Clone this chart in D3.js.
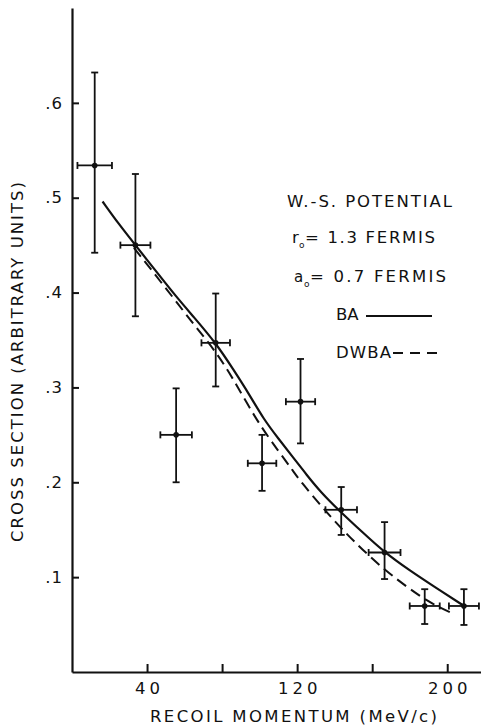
<!DOCTYPE html>
<html>
<head>
<meta charset="utf-8">
<script src="https://cdn.jsdelivr.net/npm/d3@7"></script>
<style>
  body { margin: 0; background: #fff; }
  svg { display: block; }
</style>
</head>
<body>
<div id="chart"></div>
<script>
// measured points (MeV/c, arbitrary units)
const momentum = [12.1, 33.8, 55.5, 76.6, 101.3, 121.8, 143.5, 166.6, 188, 208.9];
const momentumErr = [9.2, 8, 8.4, 7.6, 7.6, 7.8, 8.4, 8.5, 8, 8];
const crossSection = [0.534, 0.450, 0.250, 0.347, 0.220, 0.285, 0.171, 0.126, 0.0696, 0.0696];
const errLow = [0.442, 0.375, 0.200, 0.301, 0.191, 0.241, 0.1445, 0.098, 0.0506, 0.0496];
const errHigh = [0.632, 0.525, 0.299, 0.399, 0.250, 0.330, 0.195, 0.158, 0.0873, 0.0873];

// BA curve (solid)
const baX = [16.3, 25, 33.8, 47, 55, 65, 76.6, 86, 95, 102, 110, 118, 125, 132.4, 143.5, 155, 166.6, 180, 193, 209];
const baY = [0.496, 0.472, 0.450, 0.417, 0.397, 0.374, 0.347, 0.319, 0.291, 0.267, 0.246, 0.226, 0.208, 0.190, 0.168, 0.147, 0.126, 0.107, 0.090, 0.0696];

// DWBA curve (dashed)
const dwbaX = [33, 40, 47, 55, 65, 76.6, 86, 98.7, 110, 118.2, 121.8, 132.4, 139.5, 150, 166.2, 180, 189.3, 196, 202.7];
const dwbaY = [0.447, 0.430, 0.412, 0.392, 0.366, 0.338, 0.309, 0.264, 0.233, 0.211, 0.201, 0.176, 0.160, 0.138, 0.108, 0.0876, 0.075, 0.068, 0.062];

const yTicks = [0.1, 0.2, 0.3, 0.4, 0.5, 0.6];
const xTicks = [40, 80, 120, 160, 200];
const xLabelled = [40, 120, 200];

const width = 481, height = 727;
const font = '"DejaVu Sans", sans-serif';

const svg = d3.select('#chart')
    .append('svg')
    .attr('width', width)
    .attr('height', height);

const x = d3.scaleLinear().domain([0, 218]).range([72, 481]);
const y = d3.scaleLinear().domain([0, 0.7]).range([672, 8]);

// y axis, ticks pointing inward
const yAxis = svg.append('g')
    .attr('transform', `translate(${x(0)},0)`)
    .call(d3.axisLeft(y).tickValues(yTicks).tickSizeInner(-7).tickSizeOuter(0).tickPadding(9)
        .tickFormat((d) => '.' + Math.round(d * 10)));

// x axis, ticks pointing up
const xAxis = svg.append('g')
    .attr('transform', `translate(0,${y(0)})`)
    .call(d3.axisBottom(x).tickValues(xTicks).tickSizeInner(-8).tickSizeOuter(0).tickPadding(10)
        .tickFormat((d) => (xLabelled.includes(d) ? d : '')));

[yAxis, xAxis].forEach((ax) => {
    ax.select('.domain').attr('stroke', '#111').attr('stroke-width', 2.2);
    ax.selectAll('.tick line').attr('stroke', '#111').attr('stroke-width', 2);
    ax.selectAll('.tick text')
        .attr('fill', '#111')
        .style('font-family', font)
        .style('font-size', '16.5px');
});
xAxis.selectAll('.tick text').style('letter-spacing', '4px').attr('dx', '2px');
yAxis.selectAll('.tick text').style('letter-spacing', '1px');

// curves
const line = d3.line().x((d) => x(d[0])).y((d) => y(d[1])).curve(d3.curveBasis);

svg.append('path')
    .datum(baX.map((v, i) => [v, baY[i]]))
    .attr('d', line)
    .attr('fill', 'none')
    .attr('stroke', '#111')
    .attr('stroke-width', 2.2);

svg.append('path')
    .datum(dwbaX.map((v, i) => [v, dwbaY[i]]))
    .attr('d', line)
    .attr('fill', 'none')
    .attr('stroke', '#111')
    .attr('stroke-width', 2)
    .attr('stroke-dasharray', '11,6');

// error bars
const pts = momentum.map((m, i) => ({
    x: m, dx: momentumErr[i], y: crossSection[i], lo: errLow[i], hi: errHigh[i]
}));
const cap = 3.5;
const bars = svg.append('g').attr('stroke', '#111').attr('stroke-width', 1.8);
pts.forEach((p) => {
    const g = bars.append('g');
    g.append('line').attr('x1', x(p.x)).attr('x2', x(p.x)).attr('y1', y(p.lo)).attr('y2', y(p.hi));
    g.append('line').attr('x1', x(p.x) - cap).attr('x2', x(p.x) + cap).attr('y1', y(p.lo)).attr('y2', y(p.lo));
    g.append('line').attr('x1', x(p.x) - cap).attr('x2', x(p.x) + cap).attr('y1', y(p.hi)).attr('y2', y(p.hi));
    g.append('line').attr('x1', x(p.x - p.dx)).attr('x2', x(p.x + p.dx)).attr('y1', y(p.y)).attr('y2', y(p.y));
    g.append('line').attr('x1', x(p.x - p.dx)).attr('x2', x(p.x - p.dx)).attr('y1', y(p.y) - cap).attr('y2', y(p.y) + cap);
    g.append('line').attr('x1', x(p.x + p.dx)).attr('x2', x(p.x + p.dx)).attr('y1', y(p.y) - cap).attr('y2', y(p.y) + cap);
});
svg.append('g')
    .selectAll('circle')
    .data(pts)
    .enter()
    .append('circle')
    .attr('cx', (d) => x(d.x))
    .attr('cy', (d) => y(d.y))
    .attr('r', 2.8)
    .attr('fill', '#111');

// axis titles
svg.append('text')
    .attr('x', 150).attr('y', 722)
    .attr('textLength', 287).attr('lengthAdjust', 'spacing')
    .style('font-family', font).style('font-size', '16.5px').attr('fill', '#111')
    .text('RECOIL MOMENTUM (MeV/c)');

svg.append('text')
    .attr('transform', 'translate(23,542) rotate(-90)')
    .attr('textLength', 360).attr('lengthAdjust', 'spacing')
    .style('font-family', font).style('font-size', '16.5px').attr('fill', '#111')
    .text('CROSS SECTION (ARBITRARY UNITS)');

// legend / annotation
const txt = (s, xx, yy, len, size) => {
    const t = svg.append('text')
        .attr('x', xx).attr('y', yy)
        .style('font-family', font).style('font-size', (size || 16.5) + 'px').attr('fill', '#111')
        .text(s);
    if (len) t.attr('textLength', len).attr('lengthAdjust', 'spacing');
    return t;
};
txt('W.-S. POTENTIAL', 287, 207, 165);
txt('r', 292, 243);
txt('o', 299, 248, null, 9);
txt('= 1.3 FERMIS', 305, 243, 130);
txt('a', 294, 282, null, 15);
txt('o', 304, 287, null, 9);
txt('= 0.7 FERMIS', 310, 282, 136);
txt('BA', 336, 320);
txt('DWBA', 336, 358, 55);

svg.append('line')
    .attr('x1', 366).attr('x2', 432).attr('y1', 316).attr('y2', 316)
    .attr('stroke', '#111').attr('stroke-width', 1.8);
svg.append('line')
    .attr('x1', 393).attr('x2', 437).attr('y1', 353).attr('y2', 353)
    .attr('stroke', '#111').attr('stroke-width', 1.8)
    .attr('stroke-dasharray', '10,7');
</script>
</body>
</html>
